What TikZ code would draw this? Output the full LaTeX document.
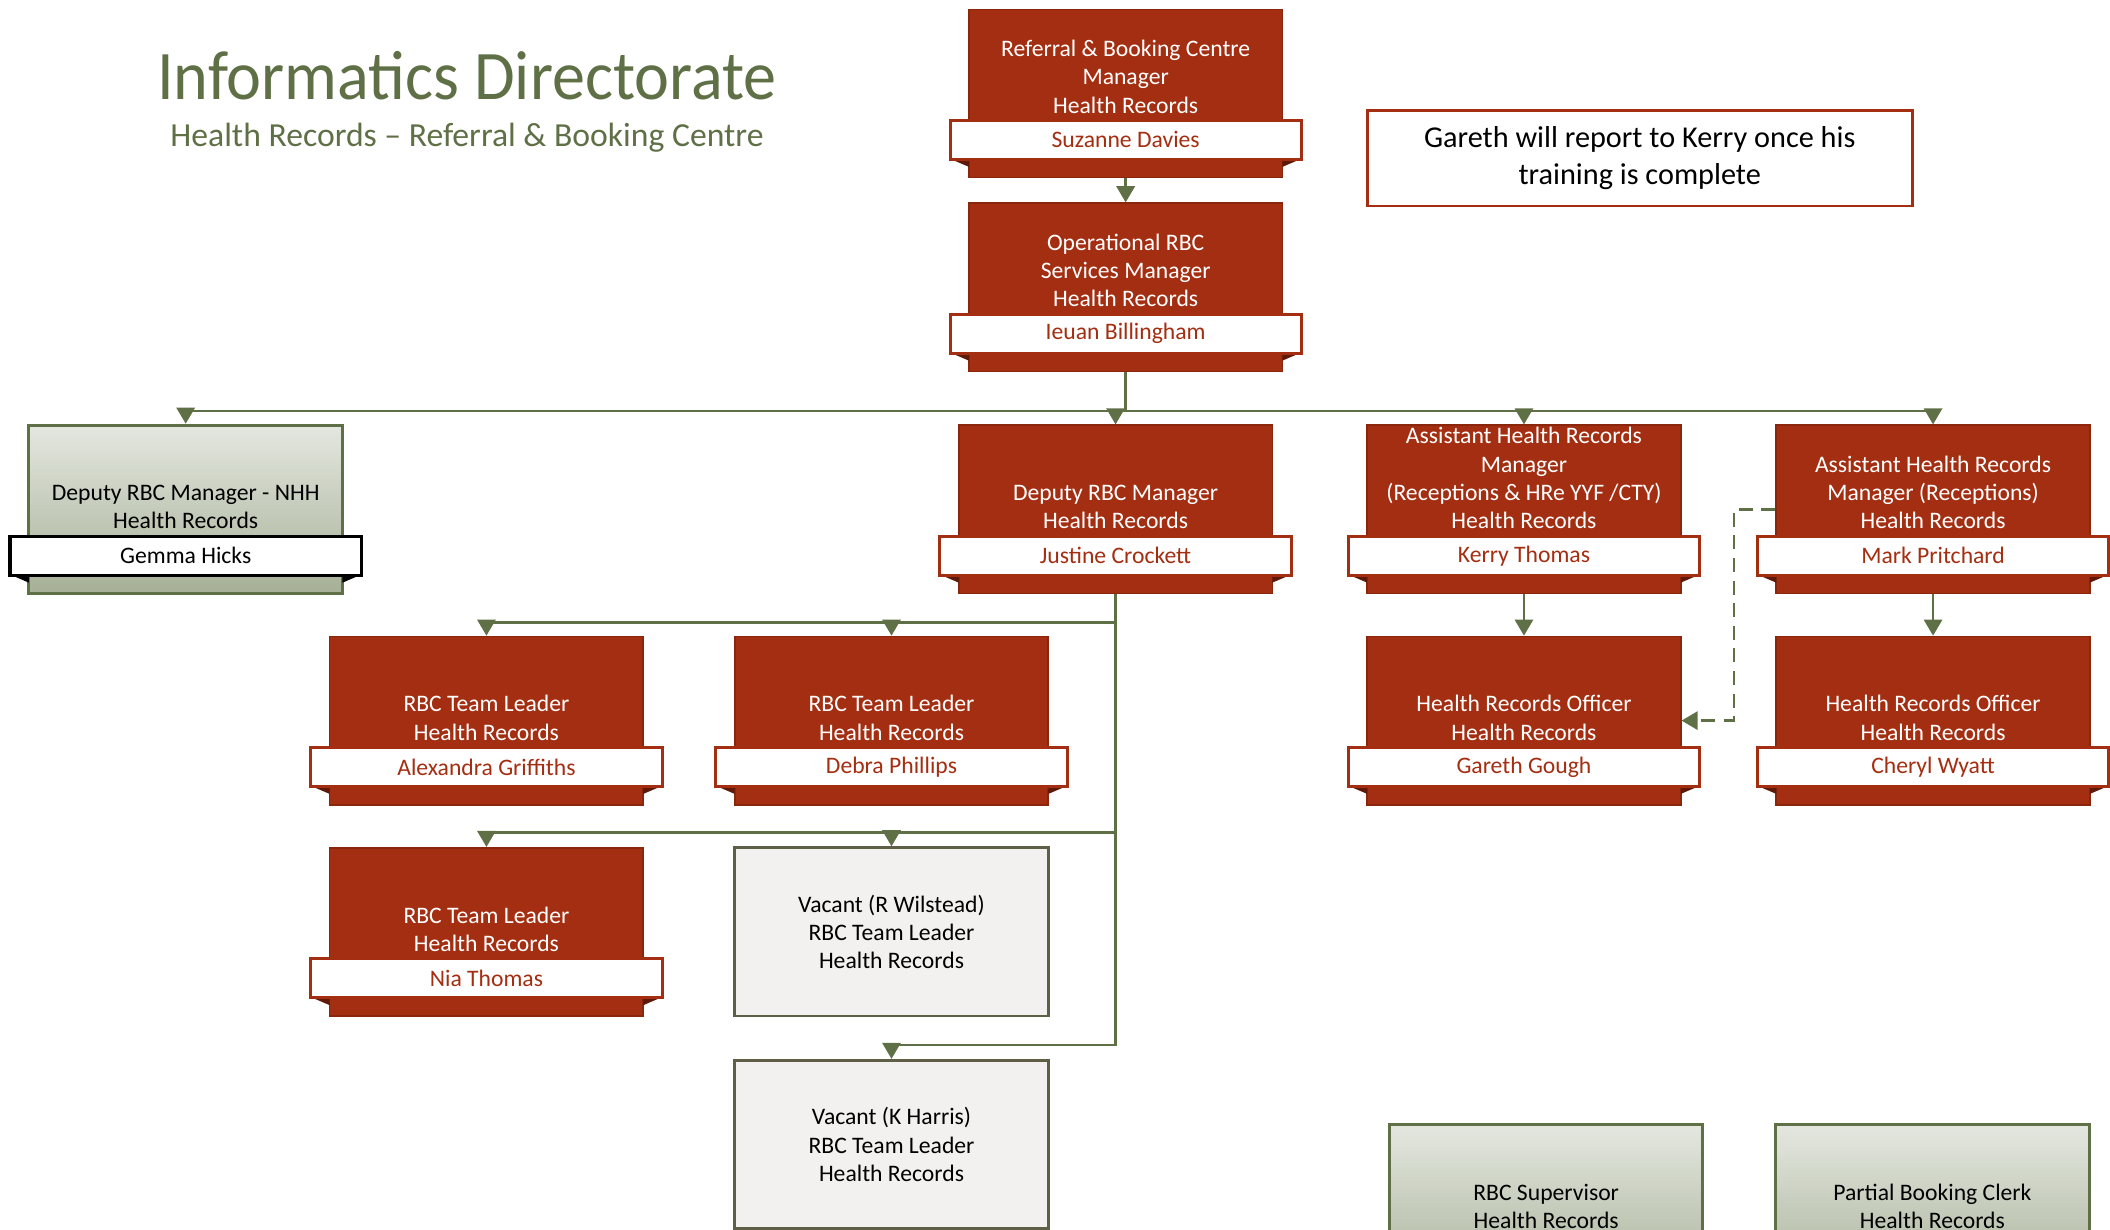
\documentclass[tikz,border=0pt]{standalone}
\usepackage{fontspec}
\setmainfont{Carlito}
\newfontfamily\titlefont[FakeStretch=0.95]{Carlito}
\usetikzlibrary{arrows.meta}
\definecolor{boxred}{RGB}{164,46,17}
\definecolor{boxedge}{RGB}{138,38,12}
\definecolor{folddark}{RGB}{95,25,8}
\definecolor{linegreen}{RGB}{95,112,70}
\definecolor{greytop}{RGB}{228,231,224}
\definecolor{greybot}{RGB}{166,176,150}
\definecolor{vacfill}{RGB}{242,241,239}
\definecolor{vacedge}{RGB}{95,95,72}
\newcommand\orgpost[6]{%
  \node[#4] (#1) at (#2,#3+62.5) {};
  \fill[#4 fold] (#2-130.5,#3+111) -- (#2-116.5,#3+111) -- (#2-116.5,#3+117) -- cycle
                 (#2+130.5,#3+111) -- (#2+116.5,#3+111) -- (#2+116.5,#3+117) -- cycle;
  \node[#4 band] (#1n) at (#2,#3+97) {#6};
  \node[#4 title, anchor=south] (#1t) at (#2,#3+77.5) {#5};
}
\begin{document}
\begin{tikzpicture}[x=0.25mm, y=-0.25mm, font=\fontsize{12.5}{15}\selectfont,
    link/.style={draw=linegreen, line width=0.45mm, -{Triangle[width=3.4mm,length=3mm]}},
    redpost/.style={fill=boxred, draw=boxedge, line width=0.3mm, minimum width=58.25mm, minimum height=31.25mm, inner sep=0},
    redpost fold/.style={fill=folddark},
    redpost band/.style={fill=white, draw=boxred, line width=0.55mm, text=boxred, minimum width=65.25mm, minimum height=7.25mm, inner sep=0},
    redpost title/.style={text=white, align=center, inner sep=0},
    greenpost/.style={top color=greytop, bottom color=greybot, draw=linegreen, line width=0.55mm, minimum width=58.25mm, minimum height=31.25mm, inner sep=0},
    greenpost fold/.style={fill=black},
    greenpost band/.style={fill=white, draw=black, line width=0.6mm, text=black, minimum width=65.25mm, minimum height=7.25mm, inner sep=0},
    greenpost title/.style={text=black, align=center, inner sep=0},
    vacpost/.style={fill=vacfill, draw=vacedge, line width=0.55mm, minimum width=58.25mm, minimum height=31.25mm, align=center}]
\useasboundingbox (0,0) rectangle (1568,914);
\clip (0,0) rectangle (1568,914);

\node[text=linegreen, font=\titlefont\fontsize{36.8}{40}\selectfont, anchor=base] (title) at (347,74) {Informatics Directorate};
\node[text=linegreen, font=\fontsize{17.8}{20}\selectfont, anchor=base] (subtitle) at (347,109) {Health Records – Referral \& Booking Centre};
\node[draw=boxred, line width=0.5mm, fill=white, minimum width=101.25mm, minimum height=17.75mm, align=center, font=\fontsize{16}{20}\selectfont] (note) at (1218.5,117.5) {Gareth will report to Kerry once his\\training is complete};

\orgpost{rbcman}{836.5}{7}{redpost}{Referral \& Booking Centre\\Manager\\Health Records}{Suzanne Davies}
\orgpost{opsman}{836.5}{151}{redpost}{Operational RBC\\Services Manager\\Health Records}{Ieuan Billingham}
\orgpost{nhh}{138}{316}{greenpost}{Deputy RBC Manager - NHH\\Health Records}{Gemma Hicks}
\orgpost{deputy}{829}{316}{redpost}{Deputy RBC Manager\\Health Records}{Justine Crockett}
\orgpost{asstk}{1132.5}{316}{redpost}{Assistant Health Records\\Manager\\(Receptions \& HRe YYF /CTY)\\Health Records}{Kerry Thomas}
\orgpost{asstm}{1436.5}{316}{redpost}{Assistant Health Records\\Manager (Receptions)\\Health Records}{Mark Pritchard}
\orgpost{tla}{361.5}{473}{redpost}{RBC Team Leader\\Health Records}{Alexandra Griffiths}
\orgpost{tlb}{662.5}{473}{redpost}{RBC Team Leader\\Health Records}{Debra Phillips}
\orgpost{tlc}{361.5}{630}{redpost}{RBC Team Leader\\Health Records}{Nia Thomas}
\orgpost{hroa}{1132.5}{473}{redpost}{Health Records Officer\\Health Records}{Gareth Gough}
\orgpost{hrob}{1436.5}{473}{redpost}{Health Records Officer\\Health Records}{Cheryl Wyatt}
\node[vacpost] (vacrw) at (662.5,692.5) {Vacant (R Wilstead)\\RBC Team Leader\\Health Records};
\node[vacpost] (vackh) at (662.5,850.5) {Vacant (K Harris)\\RBC Team Leader\\Health Records};
\node[greenpost] (super) at (1149,898.5) {};
\node[greenpost title, anchor=south] (supert) at (1149,913.5) {RBC Supervisor\\Health Records};
\node[greenpost] (pbc) at (1436,898.5) {};
\node[greenpost title, anchor=south] (pbct) at (1436,913.5) {Partial Booking Clerk\\Health Records};

\draw[link] (rbcman.south) -- (opsman.north);
\draw[link] (opsman.south) -- ++(0,29) coordinate (bus) -| (nhh.north);
\draw[link] (bus) -| (deputy.north);
\draw[link] (bus) -| (asstk.north);
\draw[link] (bus) -| (asstm.north);
\draw[link] (deputy.south) -- ++(0,21) -| (tla.north);
\draw[link] (deputy.south) -- ++(0,21) -| (tlb.north);
\draw[link] (deputy.south) -- ++(0,177) -| (tlc.north);
\draw[link] (deputy.south) -- ++(0,177) -| (vacrw.north);
\draw[link] (deputy.south) -- ++(0,335) -| (vackh.north);
\draw[link] (asstk.south) -- (hroa.north);
\draw[link] (asstm.south) -- (hrob.north);
\draw[link, dash pattern=on 2.6mm off 1.6mm] (asstm.west) -- ++(-31,0) |- (hroa.east);
\end{tikzpicture}
\end{document}
